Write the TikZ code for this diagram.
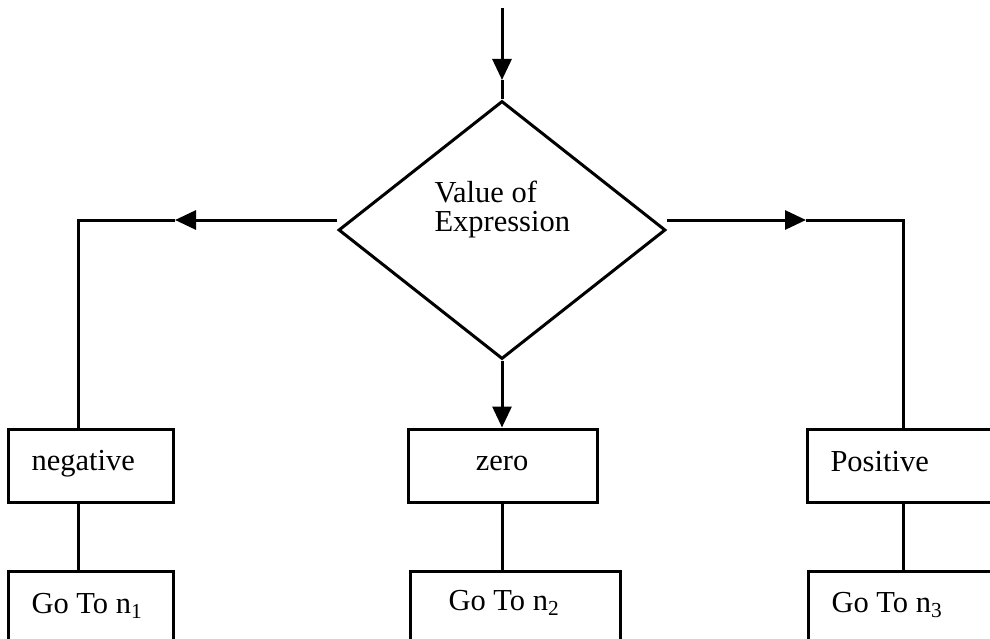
\documentclass[tikz,border=0pt]{standalone}
\usepackage{fontspec}
\setmainfont{Liberation Serif}
\usetikzlibrary{shapes.geometric,arrows.meta}
\begin{document}
\begin{tikzpicture}[x=1pt,y=-1pt,line width=3pt,
  every node/.style={font=\fontsize{30.5}{30}\selectfont},
  flowbox/.style={draw,rectangle,inner sep=0pt,minimum height=73pt},
  decision/.style={draw,diamond,inner sep=0pt,minimum width=327pt,minimum height=258pt},
  txt/.style={inner sep=0pt,anchor=base west},
  arr/.style={-{Triangle[length=21pt,width=19pt]}}]
  \clip (0,0) rectangle (990,639);
  \fill[white] (0,0) rectangle (990,639);

  % decision
  \node[decision] (dia) at (502,230) {};
  \node[txt] (valtxt) at (433,203) {Value of};
  \node[txt] (exprtxt) at (433,231) {Expression};

  % first row of boxes
  \node[flowbox,minimum width=165pt] (neg) at (90.5,465.5) {};
  \node[flowbox,minimum width=189pt] (zero) at (502.5,465.5) {};
  \node[flowbox,minimum width=210pt] (pos) at (912,465.5) {};
  \node[txt] (negtxt) at (30,470) {negative};
  \node[inner sep=0pt,anchor=base] (zerotxt) at (502,470) {zero};
  \node[txt] (postxt) at (829,471) {Positive};

  % second row of boxes
  \node[flowbox,minimum width=165pt,minimum height=110pt] (go1) at (90.5,626) {};
  \node[flowbox,minimum width=210pt,minimum height=110pt] (go2) at (515,626) {};
  \node[flowbox,minimum width=210pt,minimum height=110pt] (go3) at (913,626) {};
  \node[txt] (go1txt) at (30,613) {Go To n\textsubscript{1}};
  \node[txt] (go2txt) at (447,610) {Go To n\textsubscript{2}};
  \node[txt] (go3txt) at (830,612) {Go To n\textsubscript{3}};

  % connector bends and arrow points
  \coordinate (start) at (502,8);
  \coordinate (ta) at (502,80);
  \coordinate (la) at (175,220);
  \coordinate (lc) at (78,220);
  \coordinate (ra) at (806,220);
  \coordinate (rc) at (903,220);

  % incoming line
  \draw[arr] (start) -- (ta);
  \draw (ta) -- (dia.north);

  % negative branch
  \draw[arr] ([yshift=10pt]dia.west) -- (la);
  \draw (la) -- (lc) -- (lc |- neg.north);
  \draw (neg.south -| lc) -- (go1.north -| lc);

  % zero branch
  \draw[arr] (dia.south) -- (dia.south |- zero.north);
  \draw (dia.south |- zero.south) -- (dia.south |- go2.north);

  % positive branch
  \draw[arr] ([yshift=10pt]dia.east) -- (ra);
  \draw (ra) -- (rc) -- (rc |- pos.north);
  \draw (pos.south -| rc) -- (go3.north -| rc);
\end{tikzpicture}
\end{document}
